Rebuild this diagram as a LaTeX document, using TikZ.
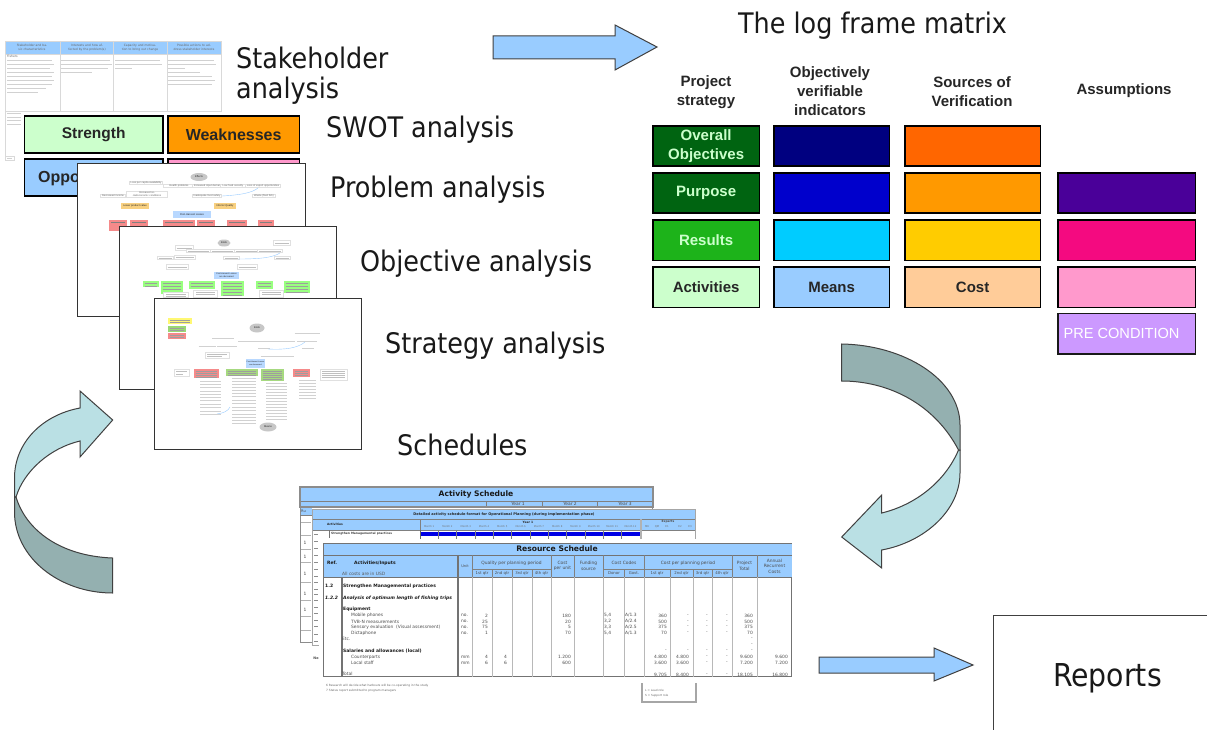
\documentclass[tikz,border=0pt]{standalone}
\usepackage{fontspec}
\usetikzlibrary{shapes.geometric}
\setmainfont{Liberation Sans}
\newfontfamily\tahf{DejaVu Sans Condensed}
\newfontfamily\djv{DejaVu Sans}
\newcommand{\fsz}[1]{\fontsize{#1}{\fpeval{#1*1.25}}\selectfont}
\newcommand{\fsl}{/}
\definecolor{hdr}{HTML}{99CCFF}
\definecolor{dkt}{HTML}{94B0B0}
\definecolor{ltt}{HTML}{BAE0E4}
\definecolor{minigreen}{HTML}{99FF80}
\definecolor{minired}{HTML}{F58A8A}
\definecolor{miniyel}{HTML}{F8D080}
\definecolor{miniblue}{HTML}{B8D8FF}
\definecolor{lfgreen}{HTML}{006411}
\definecolor{lfa}{HTML}{1DB31A}
\definecolor{lfb}{HTML}{CCFFCC}
\definecolor{nva}{HTML}{000080}
\definecolor{nvb}{HTML}{0000CC}
\definecolor{nvc}{HTML}{00CCFF}
\definecolor{ora}{HTML}{FF6600}
\definecolor{orb}{HTML}{FF9900}
\definecolor{orc}{HTML}{FFCC00}
\definecolor{ord}{HTML}{FFCC99}
\definecolor{pua}{HTML}{4A0099}
\definecolor{pub}{HTML}{F40A80}
\definecolor{puc}{HTML}{FF99CC}
\definecolor{pud}{HTML}{CC99FF}
\tikzset{
  x=1pt,y=-1pt,
  biglabel/.style={font=\tahf\fsz{28.3},text=black!90,inner sep=0pt,anchor=west,align=left},
  swotbox/.style={draw=black,line width=1.8pt,minimum height=37.5pt,inner sep=0pt,font=\bfseries\fsz{15.5},text=black!85,anchor=north west},
  lfbox/.style={draw=black,line width=1.8pt,inner sep=0pt,font=\bfseries\fsz{15},align=center,anchor=north west,minimum height=40.5pt},
  lfhead/.style={font=\bfseries\fsz{15},text=black!85,align=center,inner sep=0pt},
  blockarrow/.style={draw=black!75,line width=1pt,fill=hdr,line join=miter},
  curvedark/.style={draw=black!75,line width=1pt,fill=dkt},
  curvelight/.style={draw=black!75,line width=1pt,fill=ltt},
  sheet/.style={draw=black!80,line width=1.3pt,fill=white},
  minibox/.style={draw=black!12,line width=.4pt,fill=white},
  minitext/.style={font=\fsz{2.6},text=black!60,inner sep=.4pt,align=center},
  bar/.style={draw=black!25,line width=.7pt},
  barlight/.style={draw=black!18,line width=.8pt},
  darkbar/.style={draw=black!38,line width=.5pt},
  sheetline/.style={draw=black!50,line width=.9pt},
  gridline/.style={draw=black!28,line width=1pt},
  tt/.style={font=\djv\fsz{4.4},text=black!70,inner sep=0pt},
  ttb/.style={font=\djv\bfseries\fsz{4.5},text=black!90,inner sep=0pt,anchor=west},
  tl/.style={tt,anchor=west},
  tr/.style={tt,anchor=east},
  tc/.style={tt,align=center},
  ts/.style={font=\djv\fsz{3},text=black!60,inner sep=0pt},
}
\begin{document}
\begin{tikzpicture}
\useasboundingbox (0,0) rectangle (1207,730);
\fill[white] (0,0) rectangle (1207,730);

% ---------- stakeholder table
\fill[hdr] (5,41) rectangle (221,54);
\draw[black!15,line width=.8pt] (5,41) rectangle (221,111);
\foreach \x in {60,113.5,167} \draw[black!15,line width=.8pt] (\x,41)--(\x,111);
\draw[black!15,line width=.8pt] (5,54)--(221,54);
\draw[black!15,line width=.8pt] (5,111)--(5,160)--(14,160)--(14,156)--(5,156);
\node[ts,align=center,text width=50pt] (sh1) at (32,47.5) {Stakeholder and basic characteristics};
\node[ts,align=center,text width=50pt] (sh2) at (87,47.5) {Interests and how affected by the problem(s)};
\node[ts,align=center,text width=50pt] (sh3) at (140,47.5) {Capacity and motivation to bring out change};
\node[ts,align=center,text width=50pt] (sh4) at (194,47.5) {Possible actions to address stakeholder interests};
\node[ts,anchor=west] (sh5) at (7,56) {Fishers};
\foreach \y/\e in {60/52,64/54,68/50,72/54,76/52,80/54,84/52,88/46,92/38}
  \draw[barlight] (7,\y)--(\e,\y);
\foreach \y/\e in {60/110,64/112,68/108,72/92}
  \draw[barlight] (61,\y)--(\e,\y);
\foreach \y/\e in {60/160,64/162,68/132}
  \draw[barlight] (115,\y)--(\e,\y);
\foreach \y/\e in {60/214,64/216,68/185,72/200,76/212,80/215,84/212}
  \draw[barlight] (168,\y)--(\e,\y);
\foreach \y in {113,117,120,124} \draw[barlight] (7,\y)--(21,\y);
\draw[barlight] (7,158)--(12,158);

% ---------- SWOT
\node[swotbox,fill=hdr,minimum width=138.5pt] (opp) at (23.5,158) {};
\node[font=\bfseries\fsz{16},text=black!85,inner sep=0pt,anchor=west] (opptext) at (38,178) {Opportunities};
\node[swotbox,fill=lfb,minimum width=138.5pt] (str) at (23.5,115) {Strength};
\node[swotbox,fill=orb,minimum width=131.5pt,font=\bfseries\fsz{16}] (weak) at (167,115) {Weaknesses};
\node[swotbox,fill=puc,minimum width=131.5pt] (thr) at (167,158) {};

% ---------- problem sheet
\node[sheet,minimum width=227.7pt,minimum height=152.7pt,inner sep=0pt,anchor=north west] (prob) at (77,163) {};
\node[ellipse,fill=black!22,minimum width=17pt,minimum height=8pt,inner sep=0pt,minitext,text=black!85] (pe) at (199,177) {Effects};
\foreach \c/\y/\w/\t [count=\i] in {
  146/183/32/Loss per capita availability,
  179/186/30/Health problems,
  208/186/30/Increased input demand,
  233/186/24/Low food security,
  263/186/34/Loss of export opportunities,
  113/196/24/Decreased income,
  147/194/40/Increased social\fsl economic conditions,
  207/196/28/Inadequate food safety,
  264/196/22/Waste (fluid fish)}
  \node[minibox,minitext,text width=\w pt] (pb\i) at (\c,\y) {\t};
\draw[hdr,line width=.4pt] (222,196) .. controls (240,195) and (252,193) .. (258,188);
\node[minitext,fill=miniyel,minimum width=28pt,minimum height=6pt,text=black!85] (py1) at (135,206) {Lower product value};
\node[minitext,fill=miniyel,minimum width=22pt,minimum height=6pt,text=black!85] (py2) at (225,206) {Inferior Quality};
\node[minitext,fill=miniblue,minimum width=38pt,minimum height=7pt,text=black!85] (pbl) at (192,214.5) {Post-Harvest Losses};
\foreach \a/\b in {109/127,130/148,163/195,197/215,227/247,258/274}{
  \fill[minired] (\a,220) rectangle (\b,231);
  \draw[black!50,line width=.6pt] (\a+2,222)--(\b-2,222);
}

% ---------- objective sheet
\node[sheet,minimum width=216.7pt,minimum height=162.7pt,inner sep=0pt,anchor=north west] (obj) at (119,226) {};
\node[ellipse,fill=black!22,minimum width=13pt,minimum height=7pt,inner sep=0pt,minitext,text=black!85] (oe) at (224,243) {Ends};
\foreach \x/\y/\w/\h in {184/248/18/5,282/243/17/5,198/251/24/3,222/251/24/3,246/251/24/3,270/251/25/3,165/258/16/3,185/257/21/4,231/258/16/3,282/258/16/3,177/267/22/5,247/267/20/5}{
  \draw[minibox] (\x-\w/2,\y-\h/2) rectangle (\x+\w/2,\y+\h/2);
  \draw[bar,line width=.5pt] (\x-\w/2+1.5,\y)--(\x+\w/2-1.5,\y);
}
\draw[hdr,line width=.4pt] (238,259) .. controls (258,259) and (272,258) .. (280,253);
\node[minitext,fill=miniblue,minimum width=25pt,minimum height=7.5pt,text=black!85,font=\fsz{2.2}] (obl) at (226.5,275.5) {Post-Harvest Losses\\are decreased};
\foreach \a/\b/\c in {143/159/287,161/183/294,189/215/289,221/244/296,256/273/289,284/310/293}{
  \fill[minigreen] (\a,281) rectangle (\b,\c);
  \foreach \y in {283,286,289,292,295}{
    \pgfmathparse{\y<\c-.9?1:0}
    \ifnum\pgfmathresult=1 \draw[darkbar] (\a+1.5,\y)--(\b-2,\y);\fi
  }
}
\foreach \a/\b/\c in {163/188/292,193/217/290,259/283/290}{
  \draw[minibox] (\a,\c) rectangle (\b,297);
  \draw[bar,line width=.5pt] (\a+3,\c+2)--(\b-2,\c+2);
  \draw[bar,line width=.5pt] (\a+3,\c+4.5)--(\b-2,\c+4.5);
}

% ---------- strategy sheet
\node[sheet,minimum width=206.7pt,minimum height=150.7pt,inner sep=0pt,anchor=north west] (stra) at (154,298) {};
\fill[yellow!55] (168,318) rectangle (192,324);
\fill[green!45!olive!55] (168,326) rectangle (186,332);
\fill[minired] (168,333) rectangle (186,338.5);
\foreach \a/\b/\y in {170/190/320,170/190/322,170/184/328,170/184/330,170/184/335,170/184/337}
  \draw[darkbar] (\a,\y)--(\b,\y);
\node[ellipse,fill=black!22,minimum width=15pt,minimum height=9pt,inner sep=0pt,minitext,text=black!85] (se) at (257,328) {Ends};
\node[ellipse,fill=black!22,minimum width=17pt,minimum height=9pt,inner sep=0pt,minitext,text=black!85] (sm) at (268,427) {Means};
\foreach \x/\y/\w in {223/338/22,307/333/25,307/341/20,207/346/17,227/346/20,264/348/12,308/348/12,277/356/33}
  \draw[barlight,line width=.7pt] (\x-\w/2,\y)--(\x+\w/2,\y);
\draw[barlight,line width=.7pt] (238,341)--(295,341);
\draw[minibox] (205,352) rectangle (229,358);
\draw[bar,line width=.5pt] (207,354)--(227,354) (207,356)--(222,356);
\draw[hdr,line width=.4pt] (268,349) .. controls (285,350) and (298,348) .. (305,342);
\draw[hdr,line width=.4pt] (217,414) .. controls (224,413) and (228,411) .. (230,407);
\node[minitext,fill=miniblue,minimum width=17pt,minimum height=9pt,text=black!85,font=\fsz{1.9}] (sbl) at (255.5,363.5) {Post-Harvest Losses\\are decreased};
\foreach \a/\b/\c/\f in {194/219/378/minired,226/258/376/green!40!olive!50,261/284/381/green!40!olive!50,293/310/377/minired}{
  \fill[\f] (\a,369) rectangle (\b,\c);
  \foreach \y in {371,373,375,377,379}{
    \pgfmathparse{\y<\c-.9?1:0}
    \ifnum\pgfmathresult=1 \draw[darkbar] (\a+1.5,\y)--(\b-2,\y);\fi
  }
}
\draw[minibox] (174,369) rectangle (189,376);
\draw[bar,line width=.5pt] (176,371.5)--(187,371.5) (176,374)--(183,374);
\draw[minibox] (320,369) rectangle (347,380);
\foreach \y in {371,373,375,377} \draw[bar,line width=.5pt] (322,\y)--(345,\y);
\foreach \y in {381,384,387,391,394,397,400,404,407,411,414} \draw[barlight,line width=.7pt] (200,\y)--(221,\y);
\foreach \y in {378,381,384,387,390,393,396,400,403,407,410,414,417,420,423} \draw[barlight,line width=.7pt] (232,\y)--(256,\y);
\foreach \y in {383,386,389,392,395,398,401,404,407,410,413,416,419} \draw[barlight,line width=.7pt] (266,\y)--(287,\y);
\foreach \y in {380,383,386,389,392,395,398} \draw[barlight,line width=.7pt] (299,\y)--(316,\y);

% ---------- big labels
\node[biglabel] (lstake) at (236,57.5) {Stakeholder};
\node[biglabel] (lstake2) at (236,90.5) {analysis};
\node[biglabel] (lswot) at (326,129.5) {SWOT analysis};
\node[biglabel] (lprob) at (330,189.5) {Problem analysis};
\node[biglabel] (lobj) at (360,263.5) {Objective analysis};
\node[biglabel] (lstra) at (385,345.5) {Strategy analysis};
\node[biglabel] (lsch) at (397,445) {Schedules};
\node[biglabel] (llog) at (738,26) {The log frame matrix};

% ---------- top arrow
\draw[blockarrow] (493,36)--(615,36)--(615,25)--(657,47)--(615,70)--(615,59)--(493,59)--cycle;

% ---------- log frame
\node[lfhead] (h1) at (706,92) {Project\\strategy};
\node[lfhead] (h2) at (830,91) {Objectively\\verifiable\\indicators};
\node[lfhead] (h3) at (972,92) {Sources of\\Verification};
\node[lfhead] (h4) at (1124,91) {Assumptions};
\foreach \nm/\x/\w/\y/\col/\tx/\txt in {
  a1/652/106.5/125/lfgreen/lfb/{Overall\\Objectives},
  a2/652/106.5/172/lfgreen/lfb/Purpose,
  a3/652/106.5/219/lfa/lfb/Results,
  a4/652/106.5/266/lfb/black!85/Activities,
  b1/773/115.5/125/nva/white/{},
  b2/773/115.5/172/nvb/white/{},
  b3/773/115.5/219/nvc/white/{},
  b4/773/115.5/266/hdr/black!85/Means,
  c1/904/135.5/125/ora/white/{},
  c2/904/135.5/172/orb/white/{},
  c3/904/135.5/219/orc/white/{},
  c4/904/135.5/266/ord/black!85/Cost,
  d2/1057/137.5/172/pua/white/{},
  d3/1057/137.5/219/pub/white/{},
  d4/1057/137.5/266/puc/white/{}}
  \node[lfbox,fill=\col,text=\tx,minimum width=\w pt] (\nm) at (\x,\y) {\txt};
\node[lfbox,draw=black!90,line width=1.5pt,fill=pud,text=white,minimum width=137.5pt,font=\fsz{14.6}] (d5) at (1057,312.5) {\hspace*{-10pt}PRE CONDITION};

% ---------- curved arrows
\draw[curvelight] (958.5,450) .. controls (945,482) and (915,505) .. (881.7,513) -- (881.7,495) -- (841.7,537) -- (881.7,568) -- (881.7,550) .. controls (925,542) and (960,510) .. (960,473) -- (960,450) -- cycle;
\draw[curvedark] (841.5,344) .. controls (905,345) and (960,380) .. (960,425) -- (960,450) -- (958.5,450) .. controls (935,405) and (890,381) .. (841.5,381) -- cycle;

\draw[curvelight] (16,497) .. controls (24,471) and (50,448) .. (80,441) -- (80,457) -- (112.7,420) -- (80,391) -- (80,408) .. controls (42,415) and (14.5,443) .. (14.5,478) -- (14.5,497) -- cycle;
\draw[curvedark] (14.5,497) -- (14.5,512) .. controls (14.5,558) and (60,593) .. (112.5,593) -- (112.5,558) .. controls (60,556) and (26,530) .. (16,497) -- cycle;

% ---------- activity schedule
\node[draw=black!45,line width=1.2pt,fill=white,minimum width=352pt,minimum height=155pt,inner sep=0pt,anchor=north west] (as) at (300,487) {};
\fill[hdr] (300.5,487.5) rectangle (652.5,507);
\fill[hdr] (300.5,507) rectangle (312,515);
\draw[sheetline] (300,501)--(653,501) (300,507)--(653,507) (300,515)--(312,515);
\foreach \x in {486,542,597} \draw[sheetline] (\x,501)--(\x,507);
\draw[black!45,line width=1.2pt] (300,487) rectangle (653,507);
\node[font=\djv\bfseries\fsz{7.6},text=black!90,inner sep=0pt] (ast) at (476,494) {Activity Schedule};
\node[tt] (y1) at (518,504) {Year 1};
\node[tt] (y2) at (570,504) {Year 2};
\node[tt] (y3) at (625,504) {Year 3};
\node[tl,font=\djv\fsz{3.6}] (asr) at (301,511) {Ru};
\foreach \y in {543,557,574,594,610} \node[tt,text=black!75] at (305,\y) {1};
\foreach \y in {522,535,549,562,582,600,616,630} \draw[black!30,line width=.6pt] (301,\y)--(311,\y);

% ---------- detailed schedule
\node[draw=black!35,line width=1.2pt,fill=white,minimum width=383pt,minimum height=136pt,inner sep=0pt,anchor=north west] (ds) at (312,509) {};
\fill[hdr] (313,510) rectangle (695,530);
\draw[sheetline] (313,519)--(695,519) (313,530)--(695,530) (420,519)--(420,530);
\node[font=\djv\bfseries\fsz{3.55},text=black!85,inner sep=0pt] (dst) at (504,514.5) {Detailed activity schedule format for Operational Planning (during implementation phase)};
\node[font=\djv\bfseries\fsz{3},text=black!85,inner sep=0pt] (dsa) at (335,524.5) {Activities};
\node[font=\djv\bfseries\fsz{3},text=black!85,inner sep=0pt] (dsy) at (528,522) {Year 1};
\foreach \m in {1,...,12}
  \node[font=\djv\fsz{2.5},text=black!55,inner sep=0pt] (mo\m) at ({420+(\m-.5)*18.3},527) {Month \m};
\node[font=\djv\bfseries\fsz{3},text=black!70,inner sep=0pt] (dse) at (668,522) {Experts};
\foreach \x/\t in {647/MK,657/QM,667/E1,680/E2,690/E3}
  \node[font=\djv\fsz{2.6},text=black!55,inner sep=0pt] at (\x,527) {\t};
\draw[black!30,line width=2pt] (641,519)--(641,539);
\fill[blue!90!black] (420,531.5) rectangle (640,536);
\draw[black!60,line width=.6pt] (420,530)--(420,539);
\foreach \m in {1,...,11} \draw[black!50,line width=.4pt] ({420+\m*18.3},530)--({420+\m*18.3},539);
\draw[black!55,line width=.8pt] (329,530)--(329,538);
\node[font=\djv\bfseries\fsz{2.95},text=black!75,inner sep=0pt,anchor=west] (ds2) at (331,534) {Strengthen Managemental practices};
\foreach \y in {534,541.5,548.5,555.5,562.5,569.5,576,582.5,589.5,594,600.5,607,613.5,620,626.5,634,641}
  \draw[black!45,line width=.9pt] (314,\y)--(318,\y);
\node[tt,font=\djv\bfseries\fsz{3.4}] (no) at (316,658) {Ne};

% ---------- legend strip
\draw[draw=black!35,line width=1.2pt,fill=white] (642,670) rectangle (696,702);
\node[font=\djv\fsz{2.8},text=black!60,inner sep=0pt,anchor=west] (lg1) at (645,690) {L = Lead role};
\node[font=\djv\fsz{2.8},text=black!60,inner sep=0pt,anchor=west] (lg2) at (645,695.5) {S = Support role};

% ---------- resource schedule
\fill[white] (319,539) rectangle (797,683);
\node[draw=black!55,line width=1.3pt,fill=white,minimum width=467.7pt,minimum height=132.7pt,inner sep=0pt,anchor=north west] (rs) at (323,543) {};
\fill[hdr] (323.5,543.5) rectangle (791.5,577);
\draw[black!55,line width=.9pt] (323,555)--(792,555) (323,577)--(792,577);
\node[font=\djv\bfseries\fsz{7.6},text=black!90,inner sep=0pt] (rst) at (557,549) {Resource Schedule};
\foreach \x in {342,458} \draw[black!55,line width=1.1pt] (\x,577)--(\x,677);
\draw[black!55,line width=1.1pt] (458,555)--(458,577);
\foreach \x in {472,492,512,532,551,574,603,624,644,670,693,712,732,757} \draw[gridline] (\x,577)--(\x,677);
\foreach \x in {472,551,574,603,644,732,757} \draw[black!50,line width=.7pt] (\x,555)--(\x,577);
\foreach \x in {492,512,532,624,670,693,712} \draw[black!50,line width=.7pt] (\x,569)--(\x,577);
\draw[black!50,line width=.7pt] (472,569)--(551,569) (603,569)--(732,569);
\node[ttb] (rr) at (327,563) {Ref.};
\node[ttb] (ra) at (354,563) {Activities/Inputs};
\node[tl,text=black!65] (ru) at (342,574) {All costs are in USD};
\node[tc,font=\djv\fsz{3.6}] (rh1) at (465,566) {Unit};
\node[tc] (rh2) at (511.5,563) {Quality per planning period};
\node[tc] (rh3) at (562.5,566) {Cost\\per unit};
\node[tc] (rh4) at (588.5,566) {Funding\\source};
\node[tc] (rh5) at (624,563) {Cost Codes};
\node[tc] (rh6) at (688,563) {Cost per planning period};
\node[tc] (rh7) at (744.5,566) {Project\\Total};
\node[tc] (rh8) at (774.5,566) {Annual\\Recurrent\\Costs};
\foreach \x/\t in {482/1st qtr,502/2nd qtr,522/3rd qtr,541.5/4th qtr,657/1st qtr,681.5/2nd qtr,702.5/3rd qtr,722/4th qtr,614/Donor,634/Govt.}
  \node[tc,font=\djv\fsz{3.9}] at (\x,573.5) {\t};
\node[ttb] (r1) at (325,586) {1.2};
\node[ttb] (r2) at (343,586) {Strengthen Managemental practices};
\node[ttb,font=\djv\bfseries\itshape\fsz{4.5}] (r3) at (325,598) {1.2.2};
\node[ttb,font=\djv\bfseries\itshape\fsz{4.5}] (r4) at (343,598) {Analysis of optimum length of fishing trips};
\node[ttb] (r5) at (343,609.5) {Equipment};
\node[ttb] (r6) at (343,651) {Salaries and allowances (local)};
\node[tl] (r7) at (342,639) {Etc.};
\node[tl] (r8) at (342,674) {Total};
\foreach \y/\n/\q/\c/\d/\g/\a/\t in {
  615.5/Mobile phones/2/180/{5,4}/A\fsl 1.3/360/360,
  621.5/TVB-N measurements/25/20/{3,2}/A\fsl 2.4/500/500,
  627/Sensory evaluation\ \ (Visual assessment)/75/5/{3,3}/A\fsl 2.5/375/375,
  633/Dictaphone/1/70/{5,4}/A\fsl 1.3/70/70}{
  \node[tl] at (351,\y) {\n};
  \node[tl] at (461,\y) {no.};
  \node[tr] at (488,\y) {\q};
  \node[tr] at (571,\y) {\c};
  \node[tl] at (604,\y) {\d};
  \node[tl] at (625,\y) {\g};
  \node[tr] at (667,\y) {\a};
  \node[tr] at (689,\y) {-};
  \node[tr] at (708,\y) {-};
  \node[tr] at (728,\y) {-};
  \node[tr] at (753,\y) {\t};
}
\foreach \y/\n/\q/\c/\a/\t in {
  657/Counterparts/4/1.200/4.800/9.600,
  663/Local staff/6/600/3.600/7.200}{
  \node[tl] at (351,\y) {\n};
  \node[tl] at (461,\y) {mm};
  \node[tr] at (488,\y) {\q};
  \node[tr] at (507,\y) {\q};
  \node[tr] at (571,\y) {\c};
  \node[tr] at (667,\y) {\a};
  \node[tr] at (689,\y) {\a};
  \node[tr] at (708,\y) {-};
  \node[tr] at (728,\y) {-};
  \node[tr] at (753,\y) {\t};
  \node[tr] at (788,\y) {\t};
}
\foreach \x/\y in {753/639,753/645,667/651,689/651,708/651,728/651,753/651}
  \node[tr] at (\x,\y) {-};
\foreach \x/\t in {667/9.705,689/8.400,708/-,728/-,753/18.105,788/16.800}
  \node[tr] at (\x,675) {\t};
\node[font=\djv\fsz{2.9},text=black!60,inner sep=0pt,anchor=west] (n6) at (326,686) {6 Research will decide what harbours will be co-operating in the study};
\node[font=\djv\fsz{2.9},text=black!60,inner sep=0pt,anchor=west] (n7) at (326,691) {7 Status report submitted to program managers};

% ---------- bottom arrow & reports
\draw[blockarrow] (819,657)--(934,657)--(934,648)--(973,665)--(934,681)--(934,673)--(819,673)--cycle;
\draw[black!75,line width=1pt] (1207,615)--(993,615)--(993,730);
\node[font=\tahf\fsz{31.5},text=black!90,inner sep=0pt] (rep) at (1107.5,678) {Reports};
\end{tikzpicture}
\end{document}
